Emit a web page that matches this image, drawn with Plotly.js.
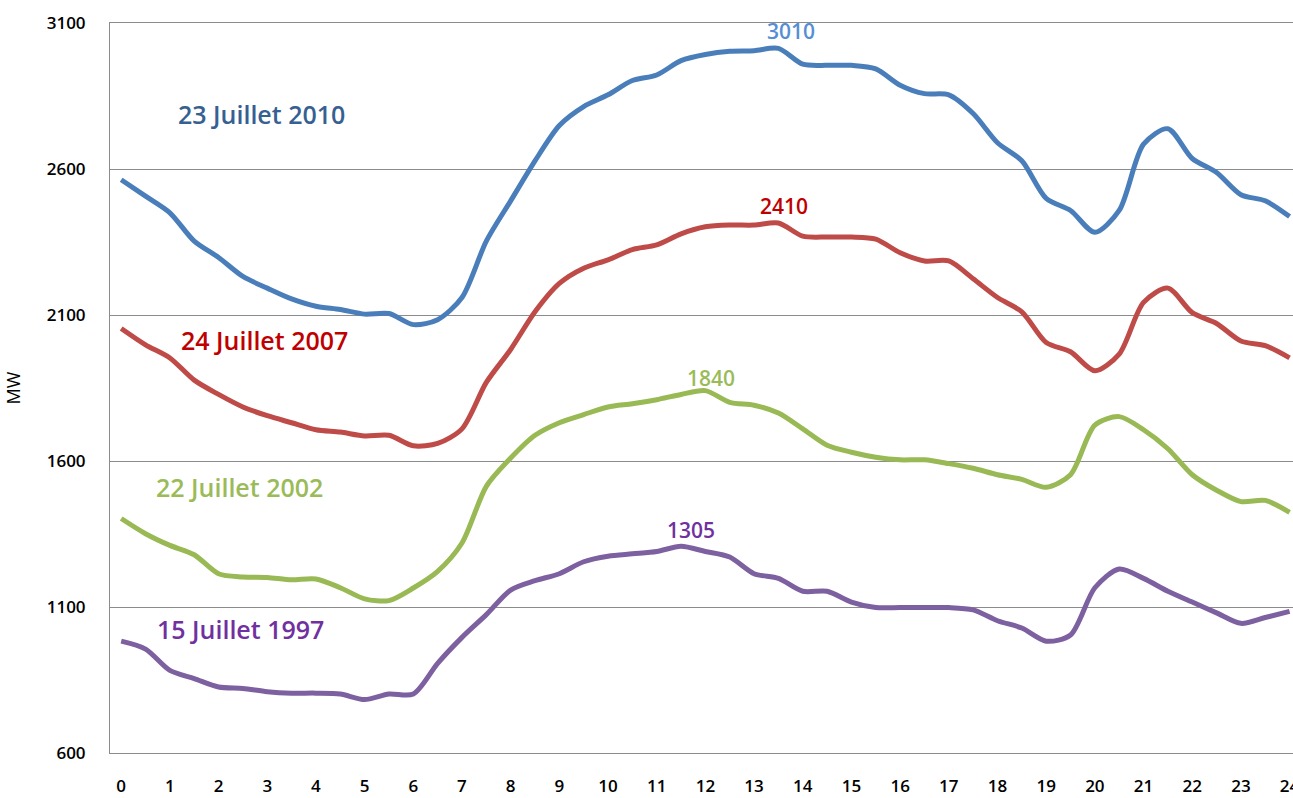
<!DOCTYPE html>
<html>
<head>
<meta charset="utf-8">
<script src="https://cdn.plot.ly/plotly-3.0.1.min.js"></script>
<style>html,body{margin:0;padding:0;background:#fff;}#chart{width:1293px;height:798px;}</style>
</head>
<body>
<div id="chart"></div>
<script>
// Hours (half-hour steps)
const hours = [];
for (let i = 0; i <= 48; i++) hours.push(i / 2);

const seriesNames = ["23 Juillet 2010", "24 Juillet 2007", "22 Juillet 2002", "15 Juillet 1997"];
const lineColors = ["#4a7ebb", "#be4b48", "#98b954", "#7d60a0"];
const textColors = ["#376092", "#c00000", "#9bbb59", "#7030a0"];
const peakColors = ["#558ed5", "#c00000", "#9bbb59", "#7030a0"];

const load2010 = [2563, 2507, 2450, 2353, 2297, 2232, 2192, 2155, 2130, 2119, 2103, 2105, 2067, 2084, 2160, 2353, 2491, 2628, 2749, 2814, 2854, 2903, 2922, 2971, 2992, 3003, 3005, 3013, 2959, 2955, 2955, 2943, 2887, 2858, 2854, 2790, 2690, 2628, 2499, 2458, 2383, 2458, 2685, 2738, 2636, 2588, 2512, 2491, 2437];
const load2007 = [2054, 1998, 1953, 1877, 1828, 1785, 1755, 1731, 1707, 1699, 1686, 1688, 1652, 1660, 1710, 1869, 1982, 2111, 2208, 2260, 2289, 2324, 2340, 2378, 2402, 2408, 2408, 2415, 2370, 2367, 2367, 2360, 2313, 2285, 2285, 2224, 2160, 2111, 2006, 1974, 1909, 1966, 2143, 2192, 2108, 2071, 2011, 1995, 1953];
const load2002 = [1403, 1351, 1311, 1279, 1214, 1203, 1201, 1193, 1196, 1166, 1128, 1122, 1165, 1222, 1319, 1513, 1610, 1688, 1731, 1759, 1785, 1796, 1810, 1828, 1841, 1801, 1791, 1764, 1710, 1654, 1630, 1613, 1604, 1604, 1591, 1575, 1553, 1537, 1510, 1553, 1723, 1752, 1707, 1642, 1553, 1500, 1461, 1465, 1424];
const load1997 = [983, 956, 883, 855, 826, 821, 810, 805, 805, 802, 783, 802, 802, 907, 996, 1074, 1158, 1190, 1214, 1255, 1274, 1282, 1290, 1308, 1290, 1271, 1214, 1198, 1154, 1154, 1117, 1098, 1098, 1098, 1098, 1090, 1053, 1028, 983, 1004, 1166, 1230, 1198, 1154, 1117, 1080, 1044, 1064, 1085];

const seriesData = [load2010, load2007, load2002, load1997];

// Series name label positions (hour, MW)
const nameLabelX = [2.89, 2.95, 2.44, 2.46];
const nameLabelY = [2788, 2014, 1511, 1025];

// Peak labels
const peakLabels = ["3010", "2410", "1840", "1305"];
const peakX = [13.76, 13.62, 12.12, 11.71];
const peakY = [3010, 2410, 1840, 1305];
const peakShift = [18, 18, 13, 17];

const tickVals = [];
for (let h = 0; h <= 24; h++) tickVals.push(h);
const yTicks = [600, 1100, 1600, 2100, 2600, 3100];

const traces = seriesData.map((vals, i) => ({
  x: hours, y: vals, type: "scatter", mode: "lines", name: seriesNames[i],
  line: {color: lineColors[i], width: 5, shape: "spline", smoothing: 0.8},
  hoverinfo: "skip"
}));

const font = "Open Sans, Liberation Sans, sans-serif";
const annotations = [];
seriesNames.forEach((n, i) => annotations.push({
  x: nameLabelX[i], y: nameLabelY[i], text: n, showarrow: false,
  xanchor: "center", yanchor: "middle",
  font: {family: font, size: 25, color: textColors[i], weight: 600}
}));
peakLabels.forEach((t, i) => annotations.push({
  x: peakX[i], y: peakY[i], text: t, showarrow: false, yshift: peakShift[i],
  xanchor: "center", yanchor: "middle",
  font: {family: font, size: 21, color: peakColors[i], weight: 600}
}));

const layout = {
  width: 1293, height: 798,
  margin: {l: 110, r: 0, t: 23, b: 45},
  paper_bgcolor: "#fff", plot_bgcolor: "#fff",
  showlegend: false,
  font: {family: font, color: "#000"},
  xaxis: {
    range: [-0.23, 24.07], tickvals: tickVals, ticktext: tickVals.map(String),
    showgrid: false, zeroline: false, showline: true, mirror: true,
    linecolor: "#8c8c8c", linewidth: 1, ticks: "",
    ticklabelstandoff: 18, ticklabeloverflow: "allow",
    tickfont: {family: font, size: 17, color: "#000", weight: 600}
  },
  yaxis: {
    range: [600, 3100], tickvals: yTicks, ticktext: yTicks.map(String),
    showgrid: true, gridcolor: "#8c8c8c", gridwidth: 1,
    zeroline: false, showline: true, linecolor: "#8c8c8c", linewidth: 1, ticks: "",
    ticklabelstandoff: 20,
    tickfont: {family: font, size: 17, color: "#000", weight: 600},
    title: {text: "MW", standoff: 21, font: {family: font, size: 18, color: "#000"}}
  },
  annotations: annotations
};

Plotly.newPlot("chart", traces, layout, {displayModeBar: false, staticPlot: true});
</script>
</body>
</html>
